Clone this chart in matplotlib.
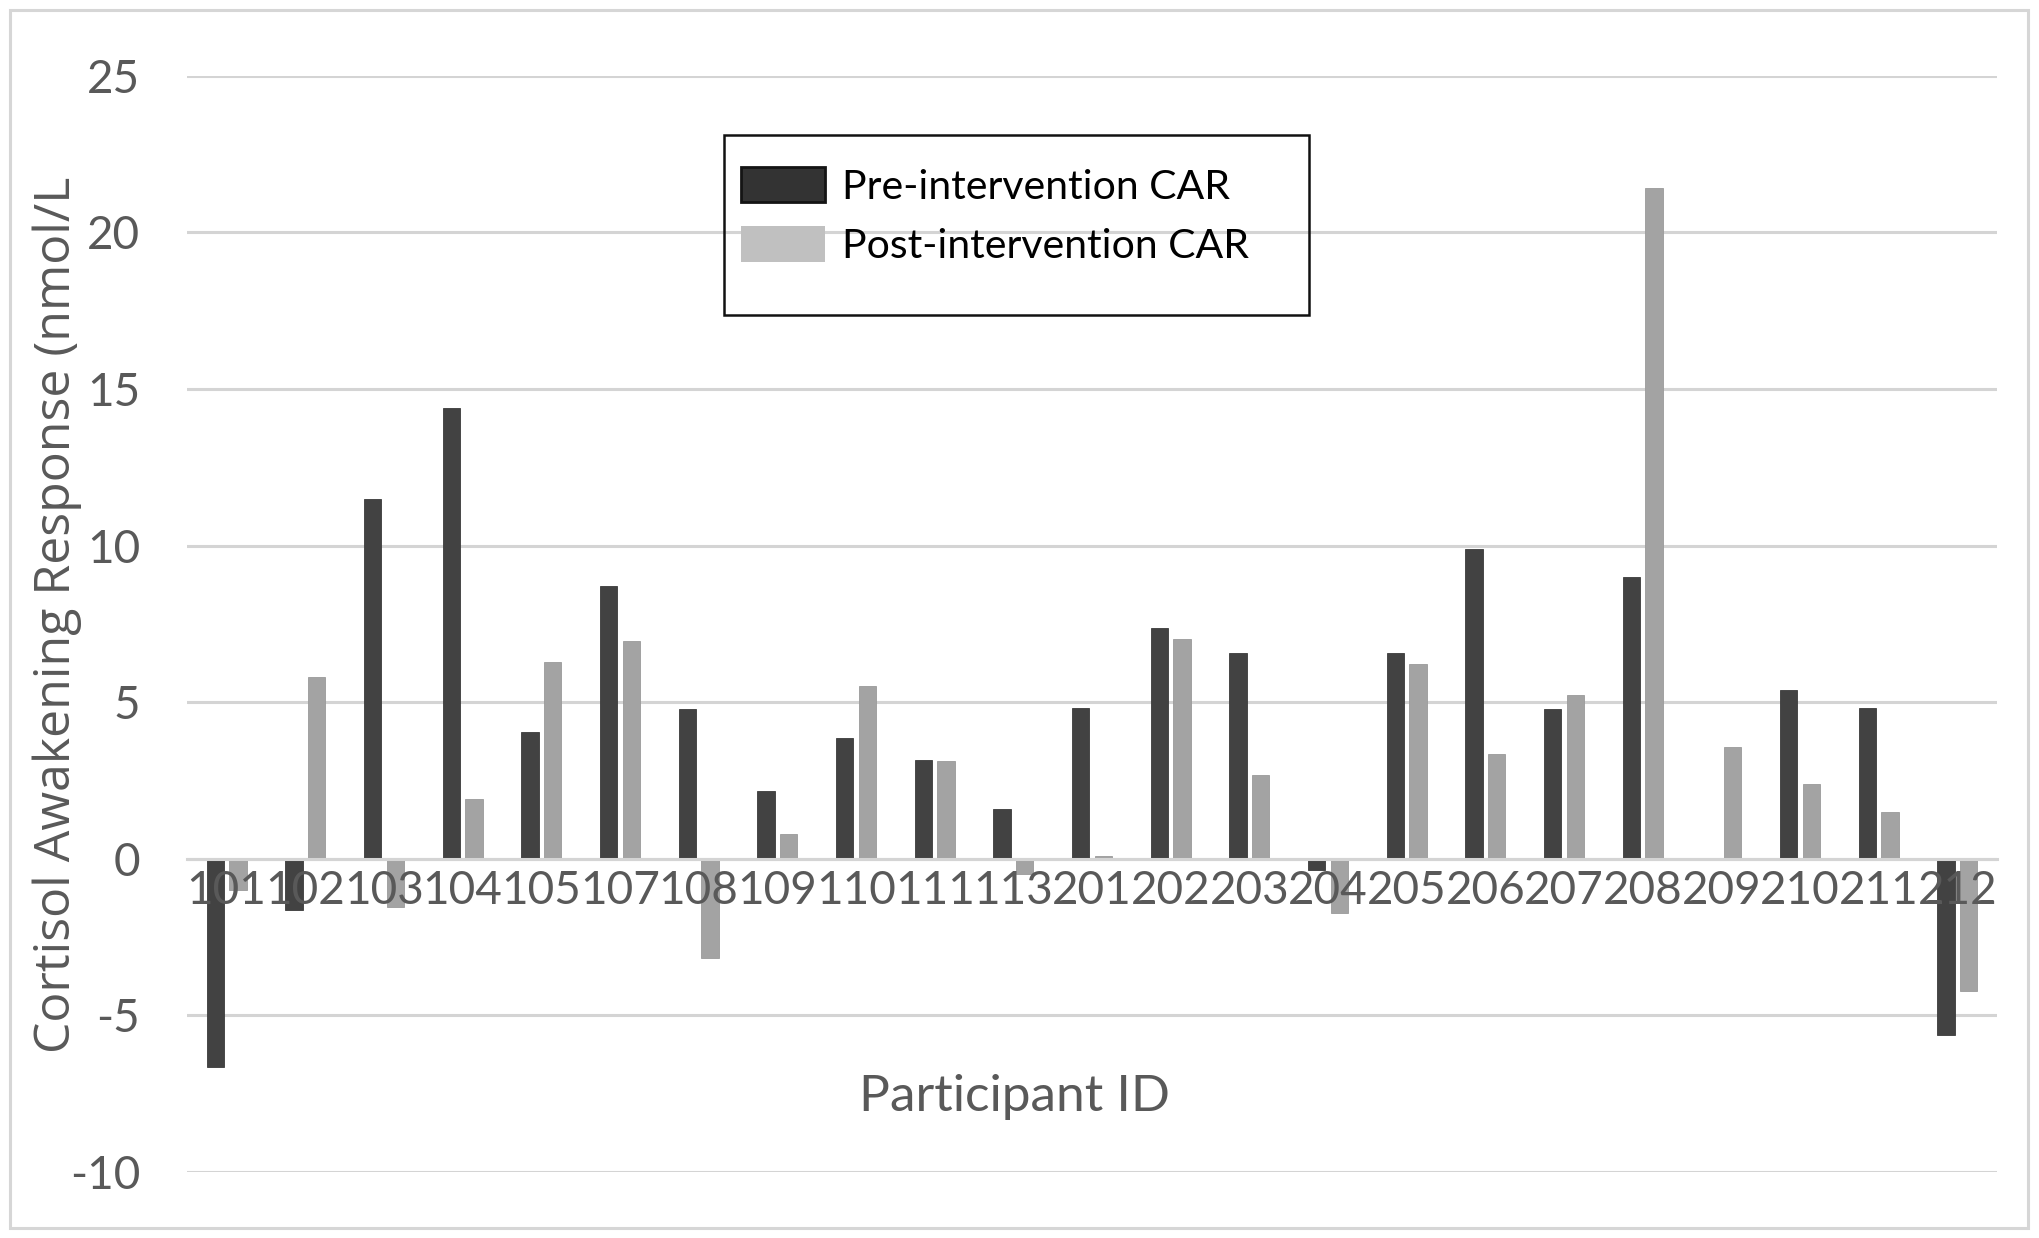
import matplotlib
matplotlib.use("Agg")
import matplotlib.pyplot as plt
from matplotlib.patches import Rectangle, Patch
import numpy as np

plt.rcParams["axes.unicode_minus"] = False

participants = ["101", "102", "103", "104", "105", "107", "108", "109", "110", "111", "113",
                "201", "202", "203", "204", "205", "206", "207", "208", "209", "210", "211", "212"]
pre_car = [-6.65, -1.65, 11.5, 14.4, 4.03, 8.72, 4.78, 2.15, 3.84, 3.15, 1.6,
           4.8, 7.38, 6.58, -0.35, 6.58, 9.9, 4.77, 9.0, 0.0, 5.38, 4.8, -5.62]
post_car = [-1.0, 5.81, -1.55, 1.9, 6.28, 6.94, -3.17, 0.78, 5.52, 3.12, -0.5,
            0.08, 7.03, 2.66, -1.72, 6.22, 3.33, 5.22, 21.4, 3.58, 2.37, 1.5, -4.23]
yticks = [-10, -5, 0, 5, 10, 15, 20, 25]
series_labels = ["Pre-intervention CAR", "Post-intervention CAR"]

W, H = 2040, 1238
fig = plt.figure(figsize=(W / 100, H / 100), dpi=100)
ax = fig.add_axes([187.3 / W, 1 - 1171.9 / H, (1996.7 - 187.3) / W, (1171.9 - 75.7) / H])

x = np.arange(len(participants))
bw = 0.22
off = 0.145
pre_col = "#424242"
post_col = "#a3a3a3"
grid_col = "#d4d4d4"

for yv in yticks:
    ax.axhline(yv, color=grid_col, linewidth=2.2, zorder=0.5)

ax.bar(x - off, pre_car, width=bw, color=pre_col, edgecolor="#3a3a3a", linewidth=0.6, zorder=2)
ax.bar(x + off, post_car, width=bw, color=post_col, edgecolor="#9a9a9a", linewidth=0.6, zorder=2)

ax.set_xlim(-0.5, len(participants) - 0.5)
ax.set_ylim(-10, 25)
ax.set_yticks(yticks)
ax.set_axisbelow(False)
ax.xaxis.set_zorder(3)
ax.yaxis.set_zorder(3)
for s in ["left", "right", "top"]:
    ax.spines[s].set_visible(False)
ax.spines["bottom"].set_position(("data", 0))
ax.spines["bottom"].set_color(grid_col)
ax.spines["bottom"].set_linewidth(2.2)
ax.set_xticks(x)
ax.set_xticklabels(participants)
ax.tick_params(axis="x", length=0, pad=8, labelsize=33, labelcolor="#595959")
ax.tick_params(axis="y", length=0, pad=34, labelsize=33, labelcolor="#595959")
for lab in ax.get_xticklabels() + ax.get_yticklabels():
    lab.set_fontfamily("Lato")

fig.text(57 / W, 1 - 614.7 / H, "Cortisol Awakening Response (nmol/L", rotation=90,
         ha="center", va="center", fontsize=36, color="#595959", family="Open Sans")
fig.text(1015 / W, 1 - 1097 / H, "Participant ID", ha="center", va="center",
         fontsize=37, color="#595959", family="Lato")

handles = [Patch(facecolor="#333333", edgecolor="#141414", linewidth=2.0),
           Patch(facecolor="#c0c0c0", edgecolor="none")]
leg = fig.legend(handles, series_labels, loc="upper left",
                 bbox_to_anchor=(741 / W, 1 - 167 / H), frameon=False,
                 borderpad=0, borderaxespad=0, handlelength=2.05, handleheight=0.95,
                 handletextpad=0.42, labelspacing=0.5,
                 prop={"family": "Lato", "size": 29.5})
fig.add_artist(Rectangle((724 / W, 1 - 315 / H), (1309 - 724) / W, (315 - 135) / H,
                         transform=fig.transFigure, fill=False, edgecolor="#111111",
                         linewidth=1.8))
fig.add_artist(Rectangle((10 / W, 1 - 1228 / H), (2028 - 10) / W, (1228 - 10) / H,
                         transform=fig.transFigure, fill=False, edgecolor="#d6d6d6",
                         linewidth=2.2))

fig.savefig("out.png", dpi=100)
